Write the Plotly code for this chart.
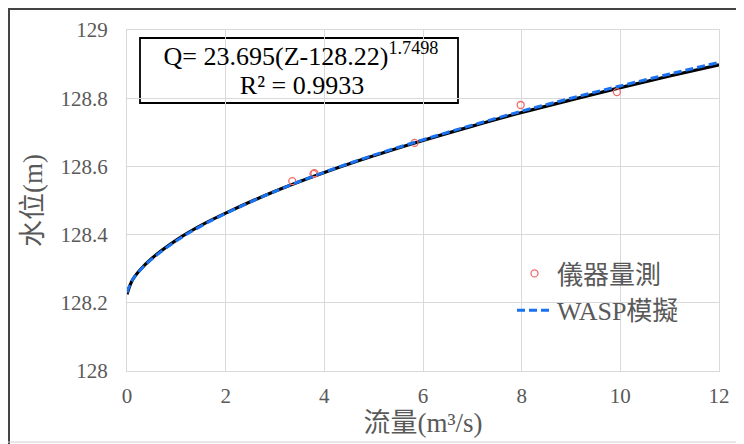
import plotly.graph_objects as go

# Measured points (儀器量測)
meas_q = [3.35, 3.78, 3.80, 5.83, 7.98, 9.93]
meas_z = [128.557, 128.578, 128.580, 128.669, 128.780, 128.818]

# Fitted rating curve (black)
fit_q = [0, 0.1, 0.25, 0.5, 1, 1.5, 2, 3, 4, 5, 6, 7, 8, 9, 10, 11, 12]
fit_z = [128.225, 128.264, 128.294, 128.330, 128.384, 128.427, 128.463, 128.527,
         128.582, 128.631, 128.676, 128.718, 128.758, 128.795, 128.831, 128.865, 128.898]

# WASP simulation (blue dashed)
wasp_q = [0, 0.1, 0.25, 0.5, 1, 1.5, 2, 3, 4, 5, 6, 7, 8, 9, 10, 11, 12]
wasp_z = [128.230, 128.265, 128.293, 128.328, 128.382, 128.425, 128.462, 128.527,
          128.583, 128.633, 128.678, 128.721, 128.762, 128.800, 128.836, 128.871, 128.905]

x_ticks = [0, 2, 4, 6, 8, 10, 12]
y_ticks = [128, 128.2, 128.4, 128.6, 128.8, 129]
y_ticktext = ["128", "128.2", "128.4", "128.6", "128.8", "129"]

eq_lines = ["Q= 23.695(Z-128.22)<sup>1.7498</sup>", "R² = 0.9933"]

FONT = "Liberation Serif, Noto Sans CJK TC, serif"
GRAY = "#595959"

# Page body has an 8px margin: figure is placed at screen (8, 8)
OFF = 8
W, H = 744 - OFF, 444 - OFF
# plot area in screen pixels
SX0, SX1, SY0, SY1 = 127, 719, 30, 371
L, T = SX0 - OFF, SY0 - OFF
R = W - (SX1 - OFF)
B = H - (SY1 - OFF)


def px_x(sx):  # screen x -> paper
    return (sx - SX0) / (SX1 - SX0)


def px_y(sy):  # screen y -> paper
    return (SY1 - sy) / (SY1 - SY0)


def dx(sx):  # screen x -> data x
    return 12 * (sx - SX0) / (SX1 - SX0)


def dy(sy):  # screen y -> data y
    return 128 + (SY1 - sy) / (SY1 - SY0)


fig = go.Figure()
fig.add_trace(go.Scatter(x=fit_q, y=fit_z, mode="lines", showlegend=False, hoverinfo="skip",
                         line=dict(color="black", width=3.2, shape="spline")))
fig.add_trace(go.Scatter(x=meas_q, y=meas_z, mode="markers", name="儀器量測",
                         marker=dict(symbol="circle-open", size=7, color="#f06a6a",
                                     line=dict(width=1.3, color="#f06a6a"))))
fig.add_trace(go.Scatter(x=wasp_q, y=wasp_z, mode="lines", name="WASP模擬",
                         line=dict(color="#1a72f0", width=3, dash="8px,4px", shape="spline")))

# Equation box (white fill, black border) and its text
fig.add_shape(type="rect", xref="paper", yref="paper",
              x0=px_x(140), x1=px_x(458), y0=px_y(103), y1=px_y(38),
              line=dict(color="black", width=1.8), fillcolor="white", layer="between")
fig.add_trace(go.Scatter(x=[dx(301), dx(302)], y=[dy(58), dy(87)], mode="text",
                         text=eq_lines, textposition="middle center", showlegend=False,
                         hoverinfo="skip", cliponaxis=False,
                         textfont=dict(size=26, color="black", family=FONT)))

fig.update_layout(
    width=W, height=H,
    margin=dict(l=L, r=R, t=T, b=B, autoexpand=False),
    paper_bgcolor="white", plot_bgcolor="white",
    font=dict(family=FONT, color=GRAY),
    legend=dict(x=px_x(512), y=px_y(250), xanchor="left", yanchor="top",
                bgcolor="rgba(0,0,0,0)", font=dict(size=26, color=GRAY, family=FONT),
                itemwidth=35, tracegroupgap=0),
    xaxis=dict(range=[0, 12], tickvals=x_ticks, showgrid=True, gridcolor="#d9d9d9",
               gridwidth=1.2, zeroline=False, showline=True, linecolor="#d9d9d9",
               linewidth=1.2, mirror=True, ticks="outside", ticklen=6,
               tickcolor="rgba(0,0,0,0)",
               tickfont=dict(size=21, color=GRAY, family=FONT),
               title=dict(text="流量(m³/s)", font=dict(size=27, color=GRAY, family=FONT),
                          standoff=0)),
    yaxis=dict(range=[128, 129], tickvals=y_ticks, ticktext=y_ticktext, showgrid=True,
               gridcolor="#d9d9d9", gridwidth=1.2, zeroline=False, showline=True,
               linecolor="#d9d9d9", linewidth=1.2, mirror=True, ticks="outside", ticklen=14,
               tickcolor="rgba(0,0,0,0)",
               tickfont=dict(size=21, color=GRAY, family=FONT),
               title=dict(text="水位(m)", font=dict(size=27, color=GRAY, family=FONT),
                          standoff=10)),
)

# Outer frame
fig.add_shape(type="line", xref="paper", yref="paper",
              x0=px_x(9), x1=px_x(9), y0=px_y(8), y1=px_y(444),
              line=dict(color="#444444", width=2))
fig.add_shape(type="line", xref="paper", yref="paper",
              x0=px_x(8), x1=px_x(744), y0=px_y(9), y1=px_y(9),
              line=dict(color="#444444", width=2))
fig.add_shape(type="line", xref="paper", yref="paper",
              x0=px_x(8), x1=px_x(744), y0=px_y(442), y1=px_y(442),
              line=dict(color="#d0d0d0", width=1))

fig.write_html("out.html")
